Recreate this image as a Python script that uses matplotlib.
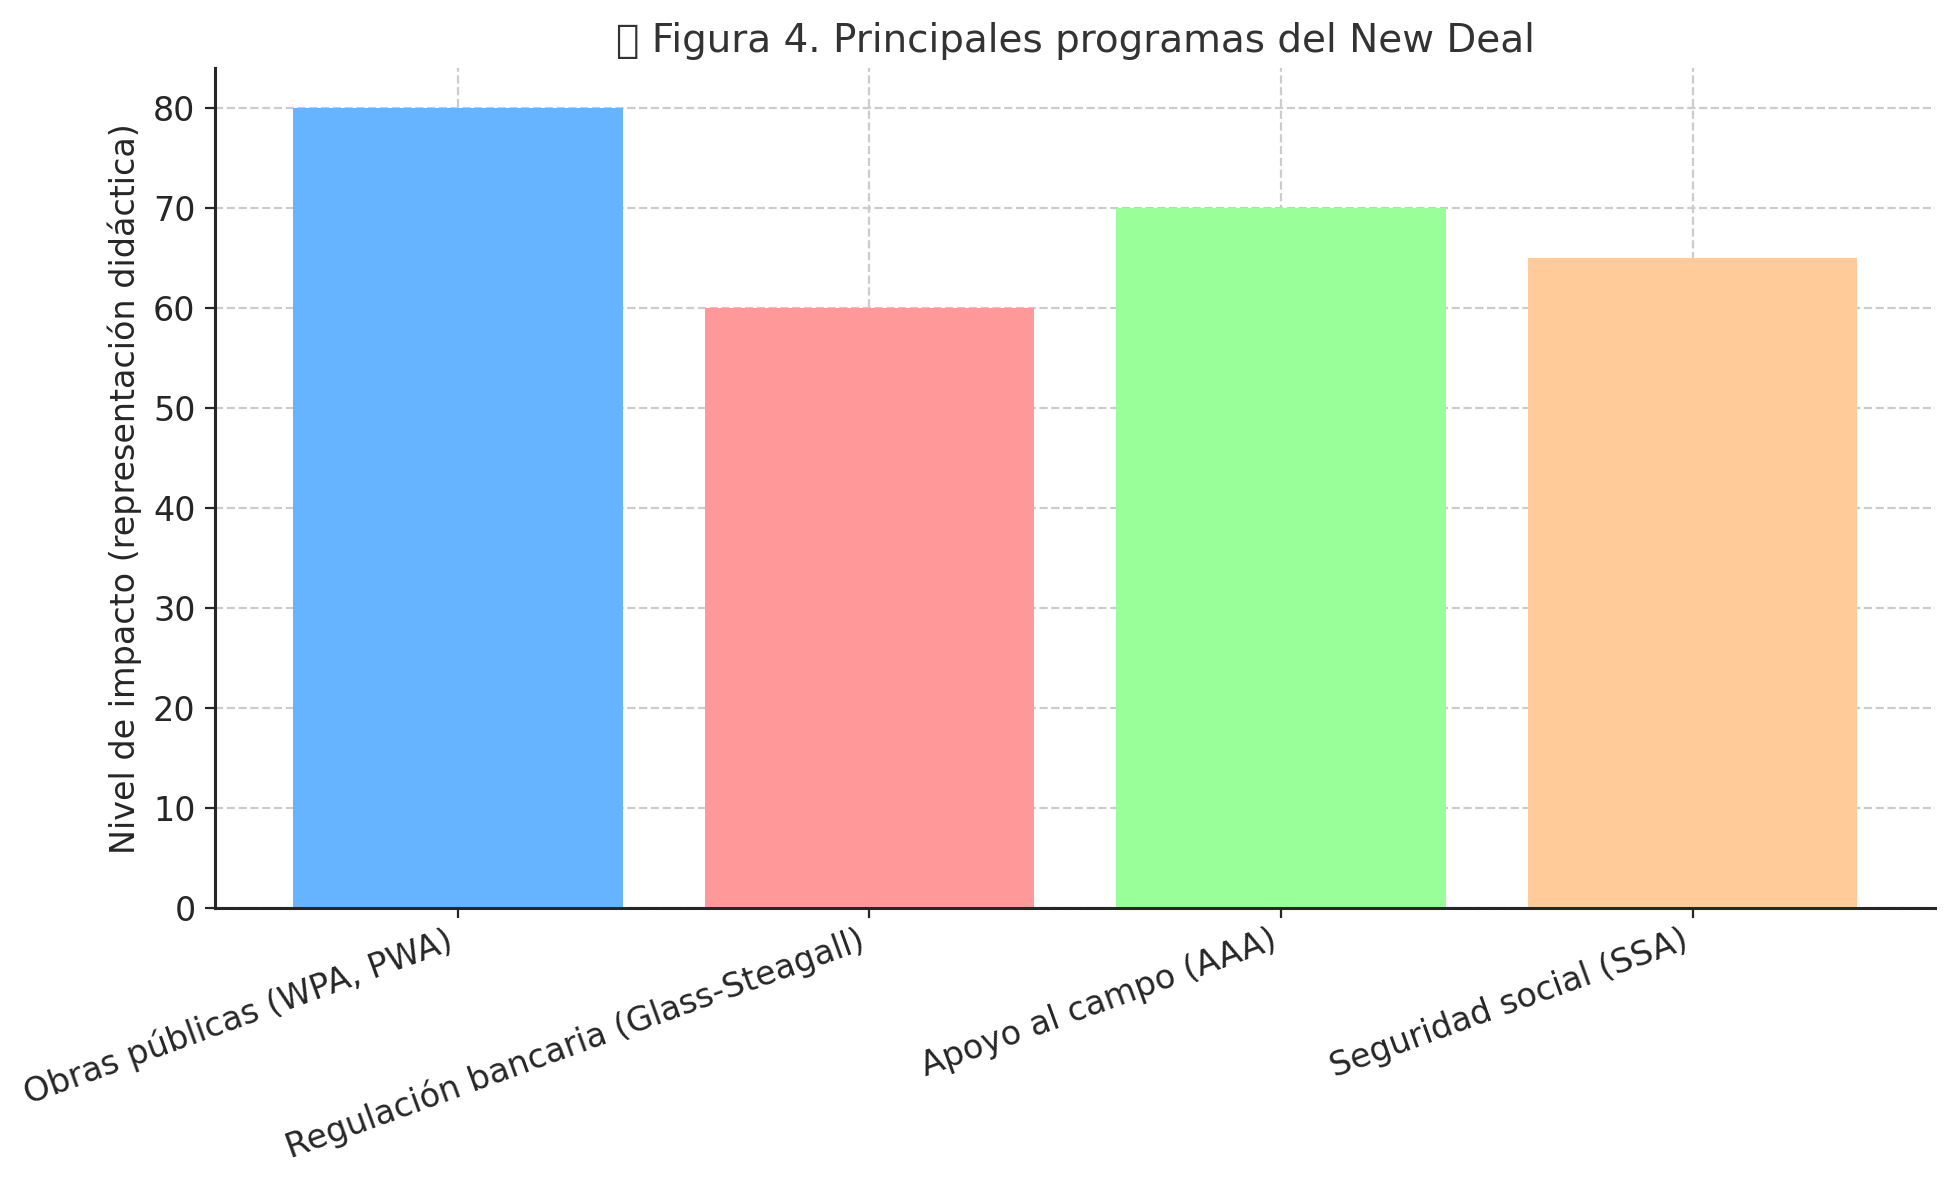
import matplotlib
matplotlib.use("Agg")
import matplotlib.pyplot as plt

# Data
programas = ["Obras públicas (WPA, PWA)", "Regulación bancaria (Glass-Steagall)",
             "Apoyo al campo (AAA)", "Seguridad social (SSA)"]
impacto = [80, 60, 70, 65]
colores = ["#66b3ff", "#ff9999", "#99ff99", "#ffcc99"]

plt.rcParams['font.family'] = ['DejaVu Sans']

fig = plt.figure(figsize=(9.775, 5.9), dpi=200)
ax = fig.add_axes([0.11, 0.2305, 0.88, 0.7115])

ax.bar(programas, impacto, color=colores, width=0.8, zorder=2)

ax.set_title("📊 Figura 4. Principales programas del New Deal", fontsize=14, color="#333333")
ax.set_ylabel("Nivel de impacto (representación didáctica)", fontsize=12, color="#262626")
ax.tick_params(axis="both", labelsize=12, colors="#262626")
ax.tick_params(axis="x", pad=2)
plt.setp(ax.get_xticklabels(), rotation=20, ha="right")

ax.grid(True, linestyle="--", color="#cccccc", linewidth=0.8, zorder=0)
for s in ["top", "right"]:
    ax.spines[s].set_visible(False)
for s in ["left", "bottom"]:
    ax.spines[s].set_color("#262626")
    ax.spines[s].set_linewidth(1.1)

fig.savefig("out.png", dpi=200)
